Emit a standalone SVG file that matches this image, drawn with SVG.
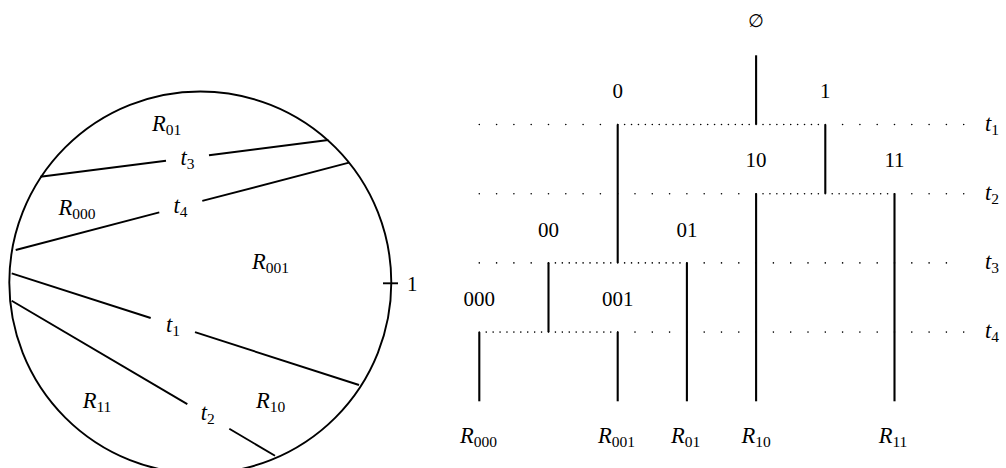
<svg xmlns="http://www.w3.org/2000/svg" width="1006" height="468" viewBox="0 0 1006 468">
<style>
text{font-family:"Liberation Serif","Times New Roman",serif;font-size:21px;fill:#000}
.m{text-anchor:middle}
.i{font-style:italic;font-size:22.5px}
.s{font-size:15.5px;font-style:normal}
.ln{stroke:#000;stroke-width:2.1;fill:none}
.c{stroke:#000;stroke-width:1.9;fill:none}
.sp{stroke:#000;stroke-width:1.6;stroke-linecap:round;stroke-dasharray:0 17.3;fill:none}
.dn{stroke:#000;stroke-width:1.6;stroke-linecap:round;stroke-dasharray:0 6.92;fill:none}
</style>
<rect width="1006" height="468" fill="#fff"/>
<g id="disc">
<circle class="c" cx="200.3" cy="282.5" r="191"/>
<line class="c" x1="383" y1="283.3" x2="398" y2="283.3"/>
<text x="407" y="290.5">1</text>
<line class="c" x1="40.3" y1="176.7" x2="166" y2="160.7"/>
<line class="c" x1="209" y1="155.3" x2="328.3" y2="140"/>
<line class="c" x1="15.7" y1="250" x2="159.3" y2="212.3"/>
<line class="c" x1="202.3" y1="200.9" x2="349" y2="162.7"/>
<line class="c" x1="11.7" y1="273.3" x2="150.7" y2="318"/>
<line class="c" x1="195" y1="332.2" x2="359" y2="385"/>
<line class="c" x1="11.7" y1="300.7" x2="187.3" y2="404.1"/>
<line class="c" x1="229.3" y1="428.8" x2="275" y2="455.7"/>
<text class="m" x="187.5" y="165"><tspan class="i">t</tspan><tspan class="s" dy="4">3</tspan></text>
<text class="m" x="180.5" y="213"><tspan class="i">t</tspan><tspan class="s" dy="4">4</tspan></text>
<text class="m" x="173" y="331.5"><tspan class="i">t</tspan><tspan class="s" dy="4">1</tspan></text>
<text class="m" x="207.7" y="420"><tspan class="i">t</tspan><tspan class="s" dy="4">2</tspan></text>
<text class="m" x="166.5" y="131"><tspan class="i">R</tspan><tspan class="s" dy="4">01</tspan></text>
<text class="m" x="77" y="215"><tspan class="i">R</tspan><tspan class="s" dy="4">000</tspan></text>
<text class="m" x="270.5" y="269"><tspan class="i">R</tspan><tspan class="s" dy="4">001</tspan></text>
<text class="m" x="97" y="408"><tspan class="i">R</tspan><tspan class="s" dy="4">11</tspan></text>
<text class="m" x="270.5" y="408"><tspan class="i">R</tspan><tspan class="s" dy="4">10</tspan></text>
</g>
<g id="connectors">
<line class="sp" x1="479.3" y1="124.5" x2="617.7" y2="124.5"/>
<line class="sp" x1="825.3" y1="124.5" x2="963.7" y2="124.5"/>
<line class="dn" x1="617.7" y1="124.5" x2="825.3" y2="124.5"/>
<line class="sp" x1="479.3" y1="193.7" x2="756.1" y2="193.7"/>
<line class="sp" x1="894.5" y1="193.7" x2="963.7" y2="193.7"/>
<line class="dn" x1="756.1" y1="193.7" x2="894.5" y2="193.7"/>
<line class="sp" x1="479.3" y1="262.9" x2="548.5" y2="262.9"/>
<line class="sp" x1="686.9" y1="262.9" x2="963.7" y2="262.9"/>
<line class="dn" x1="548.5" y1="262.9" x2="686.9" y2="262.9"/>
<line class="sp" x1="617.7" y1="332.1" x2="963.7" y2="332.1"/>
<line class="dn" x1="479.3" y1="332.1" x2="617.7" y2="332.1"/>
</g>
<g id="levels">
<text x="985" y="130.5"><tspan class="i">t</tspan><tspan class="s" dy="4">1</tspan></text>
<text x="985" y="199.7"><tspan class="i">t</tspan><tspan class="s" dy="4">2</tspan></text>
<text x="985" y="268.9"><tspan class="i">t</tspan><tspan class="s" dy="4">3</tspan></text>
<text x="985" y="338.1"><tspan class="i">t</tspan><tspan class="s" dy="4">4</tspan></text>
</g>
<g id="node-root">
<text class="m" x="756.1" y="26.5" style="font-family:'DejaVu Sans',sans-serif;font-size:18px">∅</text>
<line class="ln" x1="756.1" y1="55.3" x2="756.1" y2="124.5"/>
</g>
<g id="node-0">
<text class="m" x="617.7" y="97.5">0</text>
<line class="ln" x1="617.7" y1="124.5" x2="617.7" y2="262.9"/>
</g>
<g id="node-1">
<text class="m" x="825.3" y="97.5">1</text>
<line class="ln" x1="825.3" y1="124.5" x2="825.3" y2="193.7"/>
</g>
<g id="node-10">
<text class="m" x="756.1" y="167">10</text>
<line class="ln" x1="756.1" y1="193.7" x2="756.1" y2="401.3"/>
<text class="m" x="756" y="443"><tspan class="i">R</tspan><tspan class="s" dy="4">10</tspan></text>
</g>
<g id="node-11">
<text class="m" x="894.5" y="167">11</text>
<line class="ln" x1="894.5" y1="193.7" x2="894.5" y2="401.3"/>
<text class="m" x="893" y="443"><tspan class="i">R</tspan><tspan class="s" dy="4">11</tspan></text>
</g>
<g id="node-00">
<text class="m" x="548.5" y="236.5">00</text>
<line class="ln" x1="548.5" y1="262.9" x2="548.5" y2="332.1"/>
</g>
<g id="node-01">
<text class="m" x="686.9" y="236.5">01</text>
<line class="ln" x1="686.9" y1="262.9" x2="686.9" y2="401.3"/>
<text class="m" x="685.5" y="443"><tspan class="i">R</tspan><tspan class="s" dy="4">01</tspan></text>
</g>
<g id="node-000">
<text class="m" x="479.3" y="306">000</text>
<line class="ln" x1="479.3" y1="332.1" x2="479.3" y2="401.3"/>
<text class="m" x="478.6" y="443"><tspan class="i">R</tspan><tspan class="s" dy="4">000</tspan></text>
</g>
<g id="node-001">
<text class="m" x="617.7" y="306">001</text>
<line class="ln" x1="617.7" y1="332.1" x2="617.7" y2="401.3"/>
<text class="m" x="616.5" y="443"><tspan class="i">R</tspan><tspan class="s" dy="4">001</tspan></text>
</g>
</svg>
